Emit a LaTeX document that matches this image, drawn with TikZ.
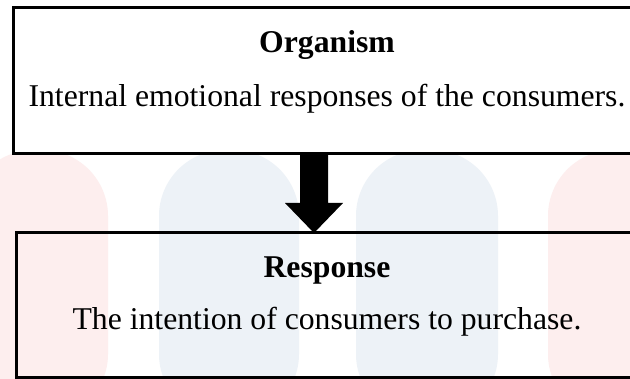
\documentclass[tikz,border=0pt]{standalone}
\usepackage{fontspec}
\setmainfont{Liberation Serif}
\usetikzlibrary{calc}
\definecolor{wmpink}{HTML}{FDEEEE}
\definecolor{wmblue}{HTML}{EDF2F7}
\tikzset{
  framebox/.style={draw=black, line width=3pt, rectangle, inner sep=0pt, outer sep=0pt},
  titletext/.style={anchor=base, inner sep=0pt, font=\fontsize{31.7}{36}\selectfont\bfseries},
  bodytext/.style={anchor=base, inner sep=0pt, font=\fontsize{31.7}{36}\selectfont},
  wmcol/.style={rounded corners=66pt},
  bigarrow/.style={fill=black, draw=none}
}
\begin{document}
\begin{tikzpicture}[x=1pt,y=-1pt]
\useasboundingbox (0,0) rectangle (630,379);
\fill[white] (0,0) rectangle (630,379);
% faint background watermark columns
\fill[wmpink, wmcol] (-32,420) -- (-32,150) -- (108,150) -- (108,420) -- cycle;
\fill[wmblue, wmcol] (159,420) -- (159,150) -- (299,150) -- (299,420) -- cycle;
\fill[wmblue, wmcol] (356,420) -- (356,150) -- (498,150) -- (498,420) -- cycle;
\fill[wmpink, wmcol] (548,420) -- (548,150) -- (688,150) -- (688,420) -- cycle;
% boxes
\node[framebox, fill=white, minimum width=628pt, minimum height=146pt] (orgbox) at (327,81) {};
\node[framebox, minimum width=621pt, minimum height=145pt] (respbox) at (327,305.5) {};
% texts
\node[titletext] (orgtitle) at (327,53) {Organism};
\node[bodytext] (orgbody) at (327,107) {Internal emotional responses of the consumers.};
\node[titletext] (resptitle) at (327,278) {Response};
\node[bodytext] (respbody) at (327,330) {The intention of consumers to purchase.};
% block arrow
\coordinate (as) at ($(orgbox.south)+(-13,0)$);
\coordinate (at) at (as |- respbox.north);
\fill[bigarrow] ($(as)+(-14,0)$) -- ($(as)+(14,0)$) -- ($(at)+(14,-30)$) -- ($(at)+(29,-30)$)
  -- (at) -- ($(at)+(-29,-30)$) -- ($(at)+(-14,-30)$) -- cycle;
\end{tikzpicture}
\end{document}
